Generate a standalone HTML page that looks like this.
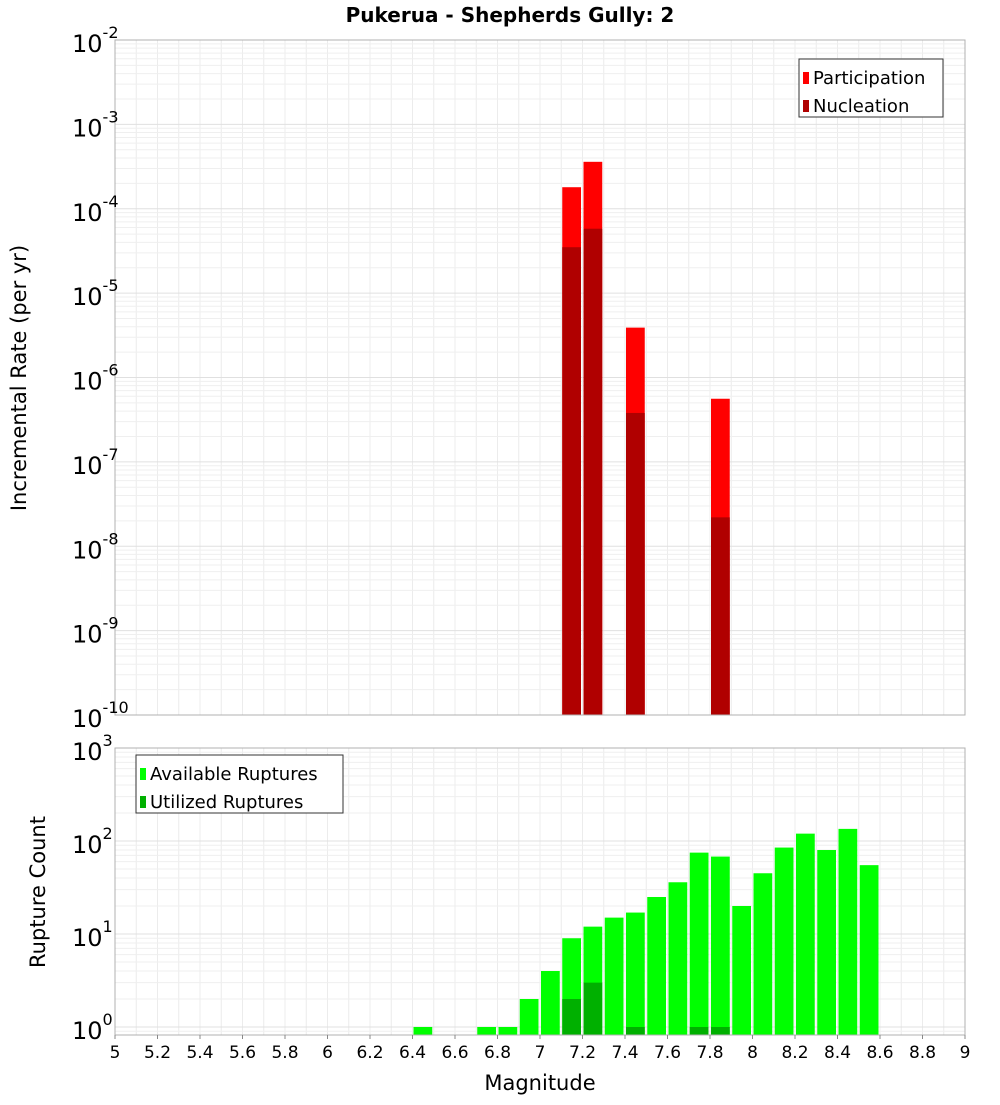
<!DOCTYPE html>
<html><head><meta charset="utf-8"><style>
body{margin:0;background:#fff;font-family:"Liberation Sans","DejaVu Sans",sans-serif;}
</style></head><body>
<svg id="c" width="1000" height="1100" xmlns="http://www.w3.org/2000/svg" font-family="DejaVu Sans, Liberation Sans, sans-serif">
<text x="510" y="22" text-anchor="middle" font-size="20" font-weight="bold">Pukerua - Shepherds Gully: 2</text>
<g id="topg"></g><g id="botg"></g>
</svg>
<script>
const bins=[6.45,6.75,6.85,6.95,7.05,7.15,7.25,7.35,7.45,7.55,7.65,7.75,7.85,7.95,8.05,8.15,8.25,8.35,8.45,8.55];
const available=[1,1,1,2,4,9,12,15,17,25,36,75,68,20,45,85,120,80,135,55];
const utilBins=[7.15,7.25,7.45,7.75,7.85];
const utilized=[2,3,1,1,1];
const rateBins=[7.15,7.25,7.45,7.85];
const participation=[1.8e-4,3.6e-4,3.9e-6,5.6e-7];
const nucleation=[3.5e-5,5.8e-5,3.8e-7,2.2e-8];
const xTicks=[5,5.2,5.4,5.6,5.8,6,6.2,6.4,6.6,6.8,7,7.2,7.4,7.6,7.8,8,8.2,8.4,8.6,8.8,9];
const topExps=[-2,-3,-4,-5,-6,-7,-8,-9,-10];
const botExps=[3,2,1,0];

const NS="http://www.w3.org/2000/svg";
const L=115,R=965;
const X=m=>L+(m-5)/4*(R-L);
const T0=40,T1=715, Yt=v=>T0+(-2-Math.log10(v))*(T1-T0)/8;
const B0=748,B1=1035,DEC=93, Yb=v=>B0+(3-Math.log10(v))*DEC;
function el(p,tag,a,txt){const e=document.createElementNS(NS,tag);for(const k in a)e.setAttribute(k,a[k]);if(txt!=null)e.textContent=txt;p.appendChild(e);return e;}
const topG=document.getElementById('topg'),botG=document.getElementById('botg');

function grid(g,y0,y1,Y,lo,hi){
  for(let i=0;i<=40;i++){const x=X(5+i*0.1);const l=el(g,'line',{x1:x,x2:x,y1:y0,y2:y1,stroke:'#ececec'});
  }
  for(let e=lo;e<hi;e++)for(let k=1;k<10;k++){const y=Y(k*Math.pow(10,e));if(y<y0||y>y1)continue;
    const l=el(g,'line',{x1:L,x2:R,y1:y,y2:y,stroke:k==1?'#e0e0e0':'#efefef'});
    }
}
grid(topG,T0,T1,Yt,-10,-1);
grid(botG,B0,B1,Yb,-1,3);

function bar(g,m,v,Y,yb,fill,name){const x=X(m-0.05)+1,w=X(m+0.05)-X(m-0.05)-2.5,y=Y(v);
  const r=el(g,'rect',{x:x,y:y,width:w,height:Math.max(0,yb-y),fill:fill});
  }
rateBins.forEach((m,i)=>bar(topG,m,participation[i],Yt,T1,'#ff0000','participation-bar'));
rateBins.forEach((m,i)=>bar(topG,m,nucleation[i],Yt,T1,'#b00000','nucleation-bar'));
bins.forEach((m,i)=>bar(botG,m,available[i],Yb,B1,'#00ff00','available-bar'));
utilBins.forEach((m,i)=>bar(botG,m,utilized[i],Yb,B1,'#00b000','utilized-bar'));

let f=el(topG,'rect',{x:L,y:T0,width:R-L,height:T1-T0,fill:'none',stroke:'#b0b0b0'});

f=el(botG,'rect',{x:L,y:B0,width:R-L,height:B1-B0,fill:'none',stroke:'#b0b0b0'});


topExps.forEach(e=>{const y=Yt(Math.pow(10,e));
  const t=el(topG,'text',{x:72,y:y+12,'font-size':24});
  
  el(t,'tspan',{},'10');el(t,'tspan',{dy:-14,'font-size':16},String(e));});
botExps.forEach(e=>{const y=Yb(Math.pow(10,e));
  const t=el(botG,'text',{x:72,y:y+12,'font-size':24});
  
  el(t,'tspan',{},'10');el(t,'tspan',{dy:-14,'font-size':16},String(e));});
xTicks.forEach(m=>{const x=X(m);
  const l=el(botG,'line',{x1:x,x2:x,y1:B1,y2:B1+4,stroke:'#888'});
  
  const t=el(botG,'text',{x:x,y:1058,'text-anchor':'middle','font-size':17},String(Math.round(m*10)/10));
  });

let t=el(botG,'text',{x:540,y:1090,'text-anchor':'middle','font-size':21},'Magnitude');

t=el(topG,'text',{x:26,y:378,'text-anchor':'middle','font-size':21,transform:'rotate(-90 26 378)'},'Incremental Rate (per yr)');

t=el(botG,'text',{x:45,y:892,'text-anchor':'middle','font-size':21,transform:'rotate(-90 45 892)'},'Rupture Count');


function legend(g,x,y,w,items,name){const lg=el(g,'g',{});
  
  el(lg,'rect',{x:x,y:y,width:w,height:58,fill:'#fff',stroke:'#333'});
  items.forEach((it,i)=>{const yy=y+19+i*28;
    el(lg,'rect',{x:x+4,y:yy-6,width:6,height:12,fill:it[1]});
    const tt=el(lg,'text',{x:x+14,y:yy+6,'font-size':18},it[0]);
    });}
legend(topG,799,59,144,[['Participation','#ff0000'],['Nucleation','#b00000']],'top-legend');
legend(botG,136,755,207,[['Available Ruptures','#00ff00'],['Utilized Ruptures','#00b000']],'bottom-legend');
</script>
</body></html>
